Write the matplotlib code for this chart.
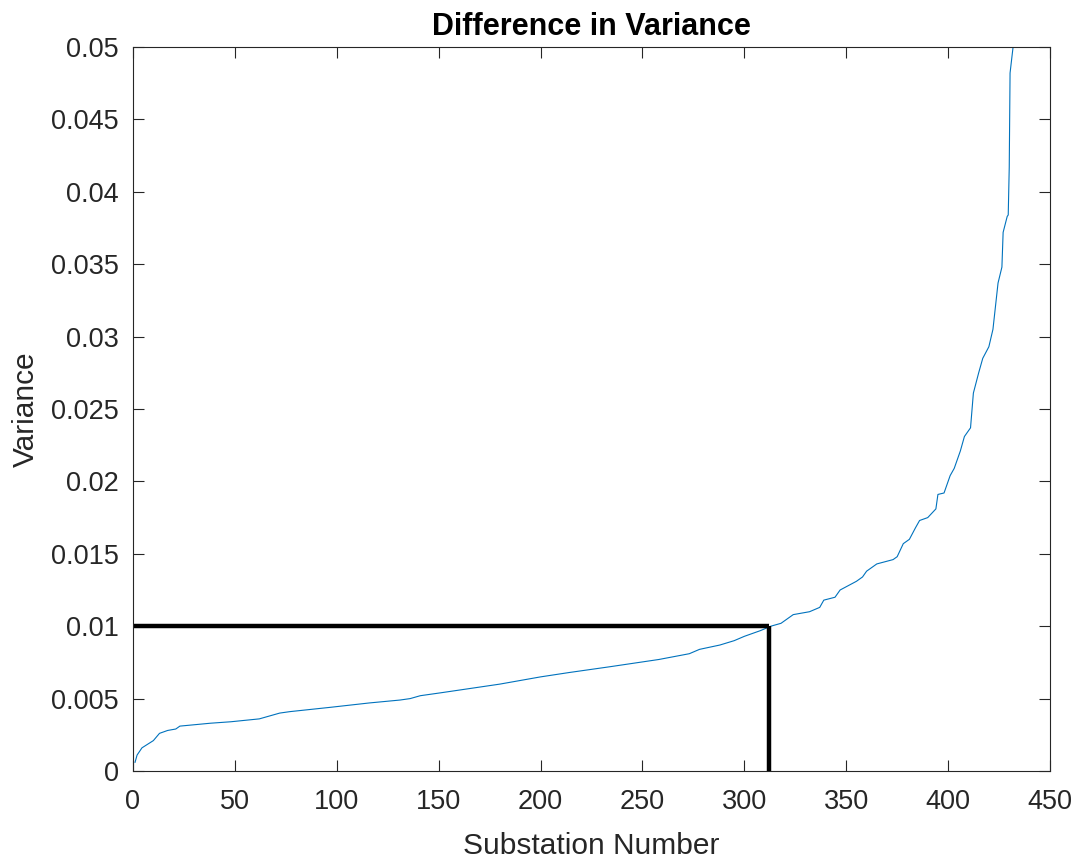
import matplotlib
matplotlib.use("Agg")
import matplotlib.pyplot as plt

plt.rcParams['font.family'] = ['Liberation Sans', 'DejaVu Sans']

# Sorted variance difference per substation
substation = [1, 2, 4.4, 10, 13, 17, 21, 23, 38, 48, 62, 67, 72, 77, 97, 116, 131, 136,
              141, 151, 180, 200, 214, 234, 258, 273, 278, 288, 295, 300, 308, 313,
              318, 324, 332, 337, 339, 344.5, 347, 351, 355, 358, 360, 365, 373, 375,
              378, 381, 384, 386, 390, 394, 395, 398, 401, 403, 406, 408, 411, 412.4,
              415, 417, 420, 422, 424.5, 426.4, 427, 429, 429.5, 430, 430.4, 431.3, 432.3, 433]
variance = [0.0006, 0.0011, 0.0016, 0.0021, 0.0026, 0.0028, 0.0029, 0.0031, 0.0033, 0.0034,
            0.0036, 0.0038, 0.0040, 0.0041, 0.0044, 0.0047, 0.0049, 0.0050, 0.0052, 0.0054,
            0.0060, 0.0065, 0.0068, 0.0072, 0.0077, 0.0081, 0.0084, 0.0087, 0.0090, 0.0093,
            0.0097, 0.0100, 0.0102, 0.0108, 0.0110, 0.0113, 0.0118, 0.0120, 0.0125, 0.0128,
            0.0131, 0.0134, 0.0138, 0.0143, 0.0146, 0.0148, 0.0157, 0.0160, 0.0168, 0.0173,
            0.0175, 0.0181, 0.0191, 0.0192, 0.0204, 0.0209, 0.0221, 0.0231, 0.0237, 0.0261,
            0.0275, 0.0285, 0.0293, 0.0305, 0.0337, 0.0348, 0.0372, 0.0383, 0.0384, 0.0417,
            0.0482, 0.0493, 0.0505, 0.0530]

threshold_variance = 0.01
cutoff_substation = 312

x_ticks = [0, 50, 100, 150, 200, 250, 300, 350, 400, 450]
y_ticks = [0, 0.005, 0.01, 0.015, 0.02, 0.025, 0.03, 0.035, 0.04, 0.045, 0.05]
y_ticklabels = ['0', '0.005', '0.01', '0.015', '0.02', '0.025', '0.03', '0.035', '0.04', '0.045', '0.05']

fig = plt.figure(figsize=(10.83, 8.58), dpi=100)
ax = fig.add_axes([133/1083, 1-771/858, (1050-133)/1083, (771-47)/858])

gray = (0.15, 0.15, 0.15)
ax.plot(substation, variance, color=(0, 0.447, 0.741), linewidth=0.8)
ax.plot([0, cutoff_substation], [threshold_variance, threshold_variance], color='black', linewidth=3.2,
        solid_capstyle='butt')
ax.plot([cutoff_substation, cutoff_substation], [0, threshold_variance], color='black', linewidth=3.2,
        solid_capstyle='butt')

ax.set_xlim(0, 450)
ax.set_ylim(0, 0.05)
ax.set_xticks(x_ticks)
ax.set_xticklabels([str(v) for v in x_ticks])
ax.set_yticks(y_ticks)
ax.set_yticklabels(y_ticklabels)

ax.tick_params(direction='in', length=8, width=0.8, top=True, right=True,
               labelsize=19.5, colors=gray)
ax.tick_params(axis='y', pad=10)
ax.tick_params(axis='x', pad=13)
for s in ax.spines.values():
    s.set_color(gray)
    s.set_linewidth(0.8)

ax.set_xlabel('Substation Number', fontsize=21.5, color=gray, labelpad=12)
ax.set_ylabel('Variance', fontsize=21.5, color=gray, labelpad=8)
ax.set_title('Difference in Variance', fontsize=22, fontweight='bold', color='black', pad=9)

fig.savefig('out.png', dpi=100)
